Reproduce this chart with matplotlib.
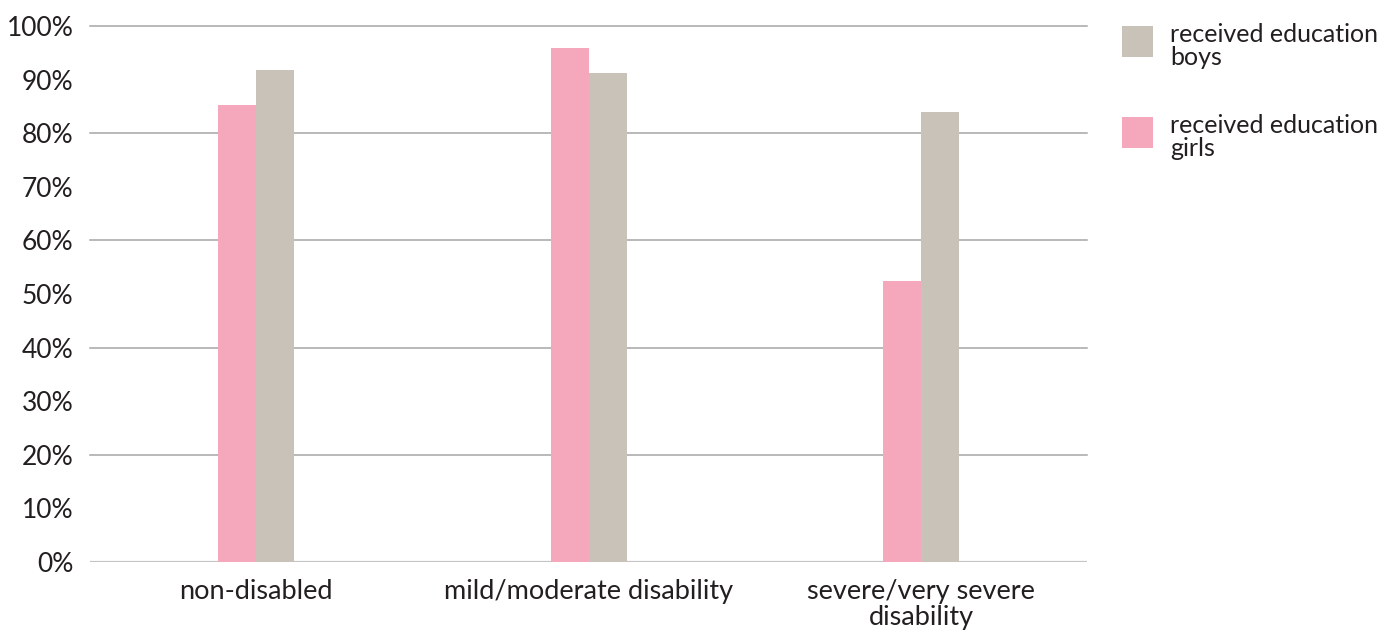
import matplotlib.pyplot as plt
from matplotlib.container import BarContainer
from matplotlib.legend_handler import HandlerPatch, update_from_first_child
from matplotlib.patches import Rectangle
import numpy as np

plt.rcParams['font.family'] = ['Lato', 'DejaVu Sans']

# Data (percent who received education)
categories = ['non-disabled', 'mild/moderate disability', 'severe/very severe\ndisability']
girls = [85.3, 95.9, 52.5]
boys = [91.8, 91.2, 84.0]
y_ticks = list(range(0, 101, 10))
grid_levels = list(range(20, 101, 20))

pink = '#f5a8bb'
grey = '#c9c2b8'
text_color = '#231f20'


# legend swatch: a square sitting at the top of the (two-line) label
def top_square(legend, orig_handle, xdescent, ydescent, width, height, fontsize):
    return Rectangle((-xdescent, -ydescent + height - width), width, width)


fig = plt.figure(figsize=(13.94, 6.30), dpi=100)
ax = fig.add_axes([0.0646, 0.108, 0.7155, 0.8507])

x = np.arange(len(categories))
width = 0.114
ax.bar(x - width / 2, girls, width, color=pink, label='received education\ngirls', zorder=3)
ax.bar(x + width / 2, boys, width, color=grey, label='received education\nboys', zorder=3)

# gridlines every 20%, baseline a bit lighter
for level in grid_levels:
    ax.axhline(level, color='#a6a6a6', linewidth=1.1, zorder=1, clip_on=False)
ax.axhline(0, color='#c4c4c4', linewidth=1.6, zorder=1)

ax.set_xlim(-0.5, len(categories) - 0.5)
ax.set_ylim(0, 100)
ax.set_yticks(y_ticks)
ax.set_yticklabels([f'{v}%' for v in y_ticks], fontsize=19, color=text_color)
ax.set_xticks(x)
ax.set_xticklabels(categories, fontsize=19.5, color=text_color, linespacing=1.05)
ax.tick_params(axis='y', length=0, pad=12)
ax.tick_params(axis='x', length=0, pad=12)
for spine in ax.spines.values():
    spine.set_visible(False)

handles, labels = ax.get_legend_handles_labels()
square_handler = HandlerPatch(patch_func=top_square, update_func=update_from_first_child)
leg = fig.legend(handles[::-1], labels[::-1], loc='upper left',
                 bbox_to_anchor=(0.798, 0.980), frameon=False,
                 fontsize=18, handlelength=1.24, handleheight=2.3,
                 handletextpad=0.68, labelspacing=1.78, borderaxespad=0,
                 handler_map={BarContainer: square_handler})
for t in leg.get_texts():
    t.set_color(text_color)
    t.set_linespacing(1.0)

fig.savefig('out.png', dpi=100)
